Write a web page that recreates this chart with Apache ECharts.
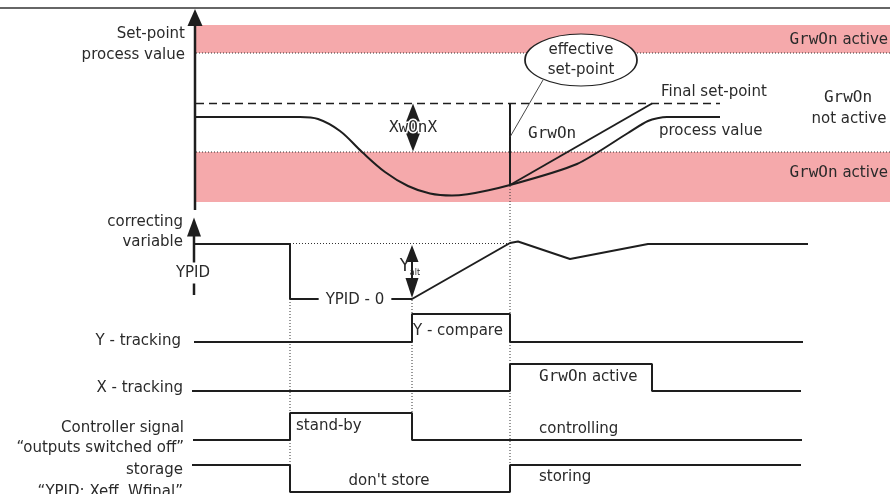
<!DOCTYPE html>
<html>
<head>
<meta charset="utf-8">
<script src="https://cdn.jsdelivr.net/npm/echarts@6/dist/echarts.min.js"></script>
<style>
  html, body { margin: 0; background: #fff; }
  #chart { width: 890px; height: 494px; }
</style>
</head>
<body>
<div id="chart"></div>
<script>
// switching instants on the time axis
const tStandby = 290, tCompare = 412, tGrwOn = 510, tGrwOff = 652

// upper diagram: set-point / process value
const finalSetpoint = [[196, 103.5], [720, 103.5]]
const processBefore = [[196, 117], [300, 117], [318, 119], [340, 131], [362, 152], [385, 172], [408, 186], [430, 193.5], [452, 195.5], [tGrwOn, 185]]
const processAfter = [[tGrwOn, 185], [577, 164], [628, 133], [648, 121], [667, 117], [720, 117]]
const setpointRamp = [[tGrwOn, 185], [tGrwOff, 103.5]]
const setpointJump = [[tGrwOn, 103.5], [tGrwOn, 185]]
const grwOnBands = [[196, 25, 890, 53], [196, 152, 890, 202]]
const bandEdges = [53, 152]

// lower diagram: correcting variable and binary signals
const correcting = [[194, 244], [tStandby, 244], [tStandby, 299], [tCompare, 299], [tGrwOn, 243], [518, 241.5], [570, 259], [648, 244], [808, 244]]
const yTracking = [[194, 342], [tCompare, 342], [tCompare, 314], [tGrwOn, 314], [tGrwOn, 342], [803, 342]]
const xTracking = [[192, 391], [tGrwOn, 391], [tGrwOn, 364], [tGrwOff, 364], [tGrwOff, 391], [801, 391]]
const controller = [[193, 440], [tStandby, 440], [tStandby, 413], [tCompare, 413], [tCompare, 440], [802, 440]]
const storage = [[192, 465], [tStandby, 465], [tStandby, 492], [tGrwOn, 492], [tGrwOn, 465], [801, 465]]

const INK = '#1e1e1e'
const TXT = '#2a2a2a'
const SANS = 'DejaVu Sans'
const MONO = 'DejaVu Sans Mono'

function line(data, width, type, extra) {
  return Object.assign({
    type: 'line', data: data, symbol: 'none', silent: true, z: 3,
    lineStyle: { color: INK, width: width, type: type || 'solid' }
  }, extra || {})
}

function dotted(a, b) {
  return line([a, b], 1, [1, 2], { z: 2, lineStyle: { color: '#333', width: 1, type: [1, 2] } })
}

// text annotations: [text, x, y, anchor, extra label options]
const notes = [
  ['Set-point', 185, 34, 'right'],
  ['process value', 185, 55, 'right'],
  ['correcting', 183, 222, 'right'],
  ['variable', 183, 242, 'right'],
  ['Y - tracking', 181, 341, 'right'],
  ['X - tracking', 183, 388, 'right'],
  ['Controller signal', 184, 428, 'right'],
  ['\u201Coutputs switched off\u201D', 184, 448, 'right'],
  ['storage', 183, 470, 'right'],
  ['\u201CYPID: Xeff, Wfinal\u201D', 183, 492, 'right'],
  ['{m|GrwOn} active', 888, 40, 'right'],
  ['{m|GrwOn} active', 888, 173, 'right'],
  ['{m|GrwOn}', 848, 98, 'center'],
  ['not active', 849, 119, 'center'],
  ['Final set-point', 661, 92, 'left'],
  ['process value', 659, 131, 'left'],
  ['{m|GrwOn}', 528, 134, 'left'],
  ['{m|XwOnX}', 413, 128, 'center', { textBorderColor: '#fff', textBorderWidth: 3 }],
  ['YPID', 193, 273, 'center', { backgroundColor: '#fff', padding: [3, 2] }],
  ['YPID - 0', 355, 300, 'center', { backgroundColor: '#fff', padding: [0, 7] }],
  ['Y', 405, 267, 'center', { fontSize: 17 }],
  ['alt', 415, 273, 'center', { fontSize: 8 }],
  ['Y - compare', 413, 331, 'left'],
  ['stand-by', 296, 426, 'left'],
  ["don't store", 389, 481, 'center'],
  ['{m|GrwOn} active', 539, 377, 'left'],
  ['controlling', 539, 429, 'left'],
  ['storing', 539, 477, 'left']
]

const posOf = { right: 'left', left: 'right', center: 'inside' }

const series = [
  // GrwOn active bands
  {
    type: 'line', data: [], silent: true, z: 1,
    markArea: {
      silent: true,
      itemStyle: { color: '#f5a9ab' },
      label: { show: false },
      data: grwOnBands.map(b => [{ coord: [b[0], b[1]] }, { coord: [b[2], b[3]] }])
    }
  },
  dotted([196, bandEdges[0]], [890, bandEdges[0]]),
  dotted([196, bandEdges[1]], [890, bandEdges[1]]),
  dotted([tStandby, 243.5], [tGrwOn, 243.5]),
  dotted([tStandby, 245], [tStandby, 480]),
  dotted([tCompare, 300], [tCompare, 440]),
  dotted([tGrwOn, 186], [tGrwOn, 467]),

  // axes
  line([[195, 210], [195, 24]], 2.5),
  line([[194, 295], [194, 234]], 2.5),

  line(finalSetpoint, 1.6, [8, 5]),
  line(processBefore, 2, 'solid', { smooth: 0.35 }),
  line(processAfter, 2, 'solid', { smooth: 0.25 }),
  line(setpointRamp, 2),
  line(setpointJump, 2),
  // leader to the effective set-point bubble
  line([[543, 80], [tGrwOn, 137]], 1, 'solid', { lineStyle: { color: '#333', width: 0.9 } }),

  line([[413, 110], [413, 146]], 2),
  line([[412, 250], [412, 292]], 2),

  line(correcting, 2),
  line(yTracking, 2),
  line(xTracking, 2),
  line(controller, 2),
  line(storage, 2),

  // arrow heads
  {
    type: 'scatter', silent: true, z: 5, symbol: 'triangle',
    itemStyle: { color: INK, opacity: 1 },
    data: [
      { value: [195, 17.5], symbolSize: [15, 17] },
      { value: [194, 227], symbolSize: [14, 19] },
      { value: [413, 114], symbolSize: [16, 21] },
      { value: [413, 141], symbolSize: [16, 21], symbolRotate: 180 },
      { value: [412, 253.5], symbolSize: [13, 17] },
      { value: [412, 288], symbolSize: [13, 20], symbolRotate: 180 }
    ]
  },
  // effective set-point bubble
  {
    type: 'scatter', silent: true, z: 6, symbol: 'circle',
    data: [{ value: [581, 60], symbolSize: [112, 52] }],
    itemStyle: { color: '#fff', borderColor: '#222', borderWidth: 1.2, opacity: 1 },
    label: {
      show: true, position: 'inside', formatter: 'effective\nset-point',
      fontFamily: SANS, fontSize: 15, lineHeight: 20, color: TXT
    }
  },
  // annotations
  {
    type: 'scatter', silent: true, z: 7, symbolSize: 0,
    itemStyle: { opacity: 1 },
    data: notes.map(n => ({
      value: [n[1], n[2]],
      label: Object.assign({
        show: true,
        position: posOf[n[3]],
        distance: 0,
        formatter: n[0],
        fontFamily: SANS,
        fontSize: 15,
        color: TXT,
        rich: { m: { fontFamily: MONO, fontSize: 16, color: TXT } }
      }, n[4] || {})
    }))
  },
  // top rule
  line([[0, 8], [890, 8]], 1.5, 'solid', { lineStyle: { color: '#333', width: 1.5 } })
]

const chart = echarts.init(document.getElementById('chart'))
chart.setOption({
  animation: false,
  backgroundColor: '#fff',
  grid: { left: 0, right: 0, top: 0, bottom: 0 },
  xAxis: { type: 'value', min: 0, max: 890, show: false },
  yAxis: { type: 'value', min: 0, max: 494, inverse: true, show: false },
  series: series
})
</script>
</body>
</html>
